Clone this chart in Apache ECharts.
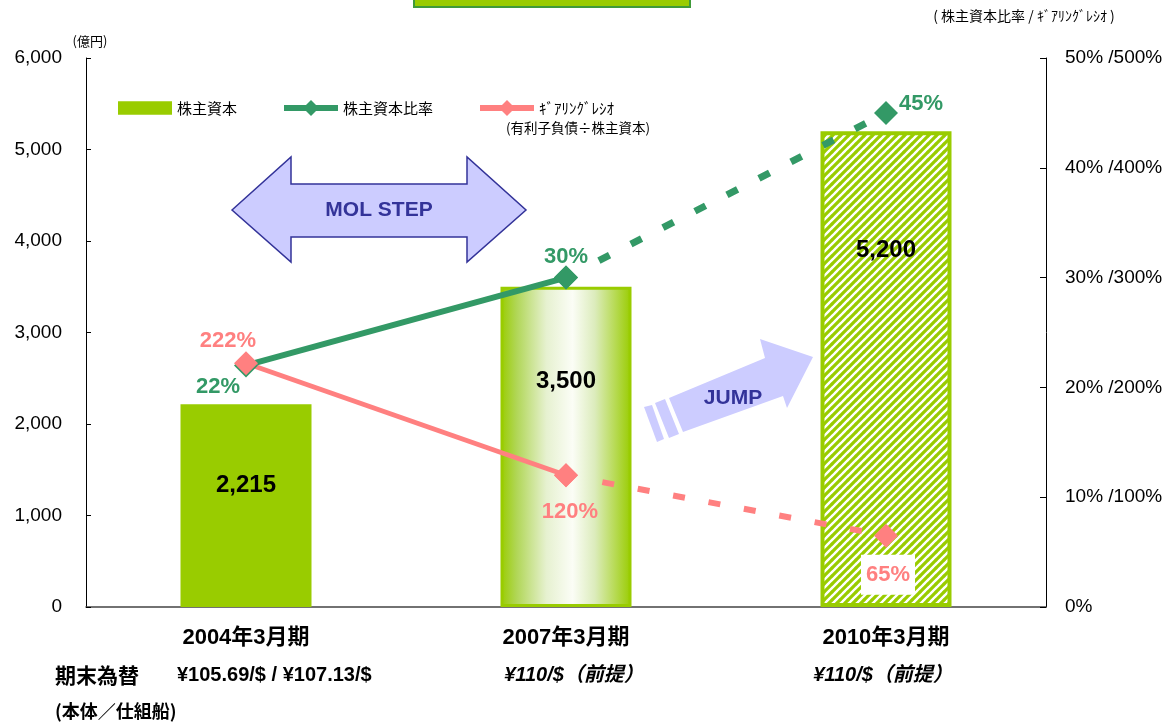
<!DOCTYPE html>
<html>
<head>
<meta charset="utf-8">
<script src="https://cdn.jsdelivr.net/npm/echarts@6/dist/echarts.min.js"></script>
<style>
  html, body { margin: 0; padding: 0; background: #fff; }
  #chart { width: 1168px; height: 724px; }
</style>
</head>
<body>
<div id="chart"></div>
<script>
// data
const categories = ['2004年3月期', '2007年3月期', '2010年3月期']
const equity = [2215, 3500, 5200]          // 株主資本 (億円)
const equityRatio = [22, 30, 45]           // 株主資本比率 (%)
const gearing = [222, 120, 65]             // ｷﾞｱﾘﾝｸﾞﾚｼｵ (%)
const rates = ['¥105.69/$ / ¥107.13/$', '¥110/$（前提）', '¥110/$（前提）']

const BAR = '#99CC00'
const GREEN = '#339966'
const PINK = '#FF8080'
const NAVY = '#333399'
const LILAC = '#CCCCFF'
const SANS = '"Liberation Sans", Arial, "Noto Sans CJK JP", sans-serif'
const CJK = '"Noto Sans CJK JP", "Liberation Sans", sans-serif'

// hatch for the 2010 (forecast) bar
const hatch = document.createElement('canvas')
hatch.width = 8
hatch.height = 8
const hc = hatch.getContext('2d')
hc.fillStyle = '#fff'
hc.fillRect(0, 0, 8, 8)
hc.strokeStyle = BAR
hc.lineWidth = 3.2
hc.beginPath()
hc.moveTo(-1, 9); hc.lineTo(9, -1)
hc.moveTo(-1, 1); hc.lineTo(1, -1)
hc.moveTo(7, 9); hc.lineTo(9, 7)
hc.stroke()

const glow = new echarts.graphic.LinearGradient(0, 0, 1, 0, [
  { offset: 0, color: '#99CC00' },
  { offset: 0.12, color: '#b0d655' },
  { offset: 0.35, color: '#e6f1d0' },
  { offset: 0.55, color: '#fbfdf6' },
  { offset: 0.72, color: '#dcecbc' },
  { offset: 1, color: '#99CC00' }
])

const barLook = [
  { color: BAR },
  { color: glow, borderColor: BAR, borderWidth: 3 },
  { color: { image: hatch, repeat: 'repeat' }, borderColor: BAR, borderWidth: 4 }
]
const barLabelShift = [-20, -66, -119]
const greenShift = [[-28, 21], [0, -21], [35, -9]]
const pinkShift = [[-18, -22], [4, 37], [2, 39]]

// dashes start a little away from the 2007 marker
const dash = [0, 37]
for (let i = 0; i < 9; i++) dash.push(12, 24)

const lineLabel = (color) => ({
  show: true,
  position: 'inside',
  formatter: '{c}%',
  fontFamily: SANS,
  fontSize: 22,
  fontWeight: 'bold',
  color: color
})

const chart = echarts.init(document.getElementById('chart'))
chart.setOption({
  animation: false,
  backgroundColor: '#fff',
  grid: { left: 86, right: 122, top: 58, bottom: 117, outerBoundsMode: 'none' },
  legend: {
    left: 113,
    top: 95,
    itemWidth: 54,
    itemHeight: 20,
    itemGap: 44,
    selectedMode: false,
    textStyle: { fontFamily: CJK, fontSize: 15, color: '#000' },
    data: [
      { name: '株主資本', icon: 'path://M0,0H52V13H0Z' },
      { name: '株主資本比率', lineStyle: { width: 6 } },
      { name: 'ｷﾞｱﾘﾝｸﾞﾚｼｵ', lineStyle: { width: 6 } }
    ]
  },
  xAxis: {
    type: 'category',
    data: categories,
    axisLine: { lineStyle: { color: '#444', width: 1.5 } },
    axisTick: { inside: true, length: 7, lineStyle: { color: '#444' } },
    axisLabel: { margin: 20, fontFamily: SANS, fontSize: 22, fontWeight: 'bold', color: '#000' }
  },
  yAxis: [
    {
      type: 'value',
      min: 0,
      max: 6000,
      interval: 1000,
      name: '(億円)',
      nameLocation: 'end',
      nameGap: 10,
      nameTextStyle: { fontFamily: CJK, fontSize: 13, color: '#000', padding: [0, 0, 0, 8] },
      axisLine: { show: true, lineStyle: { color: '#000' } },
      axisTick: { show: true, inside: true, length: 5, lineStyle: { color: '#000' } },
      splitLine: { show: false },
      axisLabel: {
        margin: 24,
        fontFamily: SANS,
        fontSize: 19,
        color: '#000',
        formatter: (v) => v.toLocaleString('en-US')
      }
    },
    {
      type: 'value',
      position: 'right',
      min: 0,
      max: 50,
      interval: 10,
      axisLine: { show: true, lineStyle: { color: '#000' } },
      axisTick: { show: true, inside: true, length: 6, lineStyle: { color: '#000' } },
      splitLine: { show: false },
      axisLabel: {
        margin: 19,
        fontFamily: SANS,
        fontSize: 19,
        color: '#000',
        formatter: (v) => (v === 0 ? '0%' : v + '% /' + v * 10 + '%')
      }
    },
    { type: 'value', position: 'right', min: 0, max: 500, show: false }
  ],
  series: [
    {
      name: '株主資本',
      type: 'bar',
      yAxisIndex: 0,
      barWidth: 131,
      itemStyle: { color: BAR },
      label: {
        show: true,
        position: 'inside',
        fontFamily: SANS,
        fontSize: 24,
        fontWeight: 'bold',
        color: '#000',
        formatter: (p) => p.value.toLocaleString('en-US')
      },
      data: equity.map((v, i) => ({
        value: v,
        itemStyle: barLook[i],
        label: { offset: [0, barLabelShift[i]] }
      }))
    },
    {
      name: '株主資本比率',
      type: 'line',
      yAxisIndex: 1,
      symbol: 'diamond',
      symbolSize: 24,
      lineStyle: { color: GREEN, width: 6 },
      itemStyle: { color: GREEN },
      label: lineLabel(GREEN),
      data: equityRatio.map((v, i) => (i < 2 ? { value: v, label: { offset: greenShift[i] } } : '-'))
    },
    {
      name: '株主資本比率',
      type: 'line',
      yAxisIndex: 1,
      symbol: 'diamond',
      symbolSize: 24,
      lineStyle: { color: GREEN, width: 7, type: dash },
      itemStyle: { color: GREEN },
      label: Object.assign(lineLabel(GREEN), { show: false }),
      data: equityRatio.map((v, i) => (i < 1 ? '-' : { value: v, label: { show: i === 2, offset: greenShift[i] } }))
    },
    {
      name: 'ｷﾞｱﾘﾝｸﾞﾚｼｵ',
      type: 'line',
      yAxisIndex: 2,
      symbol: 'diamond',
      symbolSize: 24,
      lineStyle: { color: PINK, width: 5 },
      itemStyle: { color: PINK },
      label: lineLabel(PINK),
      data: gearing.map((v, i) => (i < 2 ? { value: v, label: { offset: pinkShift[i] } } : '-'))
    },
    {
      name: 'ｷﾞｱﾘﾝｸﾞﾚｼｵ',
      type: 'line',
      yAxisIndex: 2,
      symbol: 'diamond',
      symbolSize: 24,
      lineStyle: { color: PINK, width: 6, type: dash },
      itemStyle: { color: PINK },
      label: Object.assign(lineLabel(PINK), { show: false }),
      data: gearing.map((v, i) => (i < 1 ? '-' : {
        value: v,
        label: { show: i === 2, offset: pinkShift[i], backgroundColor: '#fff', padding: [9, 5] }
      }))
    }
  ],
  graphic: [
    // title box cut off at the top
    { type: 'rect', shape: { x: 414, y: -20, width: 276, height: 27 }, style: { fill: BAR, stroke: '#3f9a3a', lineWidth: 2 } },
    { type: 'text', x: 1024, y: 16, style: { text: '( 株主資本比率 / ｷﾞｱﾘﾝｸﾞﾚｼｵ )', font: '14px ' + CJK, fill: '#000', textAlign: 'center', textVerticalAlign: 'middle' } },
    { type: 'text', x: 578, y: 128, style: { text: '(有利子負債÷株主資本)', font: '13.5px ' + CJK, fill: '#000', textAlign: 'center', textVerticalAlign: 'middle' } },
    // MOL STEP double arrow
    {
      type: 'polygon',
      shape: { points: [[232, 210], [291, 157], [291, 184], [467, 184], [467, 157], [526, 210], [467, 262], [467, 237], [291, 237], [291, 262]] },
      style: { fill: LILAC, stroke: NAVY, lineWidth: 1.5 }
    },
    { type: 'text', x: 379, y: 210, style: { text: 'MOL STEP', font: 'bold 21px ' + SANS, fill: NAVY, textAlign: 'center', textVerticalAlign: 'middle' } },
    // JUMP arrow
    {
      type: 'polygon',
      shape: { points: [[669, 398], [765, 358], [760, 339], [813, 357], [787, 408], [783, 396], [683, 432]] },
      style: { fill: LILAC }
    },
    { type: 'polygon', shape: { points: [[655, 403], [665, 399], [679, 434], [669, 438]] }, style: { fill: LILAC } },
    { type: 'polygon', shape: { points: [[644, 407], [652, 405], [664, 439], [657, 442]] }, style: { fill: LILAC } },
    { type: 'text', x: 733, y: 398, style: { text: 'JUMP', font: 'bold 21px ' + SANS, fill: NAVY, textAlign: 'center', textVerticalAlign: 'middle' } },
    // exchange-rate footer
    { type: 'text', x: 55, y: 675, style: { text: '期末為替', font: 'bold 21px ' + CJK, fill: '#000', textVerticalAlign: 'middle' } },
    { type: 'text', x: 177, y: 675, style: { text: rates[0], font: 'bold 20px ' + SANS, fill: '#000', textVerticalAlign: 'middle' } },
    { type: 'text', x: 574, y: 675, style: { text: rates[1], font: 'italic bold 20px ' + SANS, fill: '#000', textAlign: 'center', textVerticalAlign: 'middle' } },
    { type: 'text', x: 883, y: 675, style: { text: rates[2], font: 'italic bold 20px ' + SANS, fill: '#000', textAlign: 'center', textVerticalAlign: 'middle' } },
    { type: 'text', x: 55, y: 711, style: { text: '(本体／仕組船)', font: 'bold 18px ' + CJK, fill: '#000', textVerticalAlign: 'middle' } }
  ]
})
</script>
</body>
</html>
